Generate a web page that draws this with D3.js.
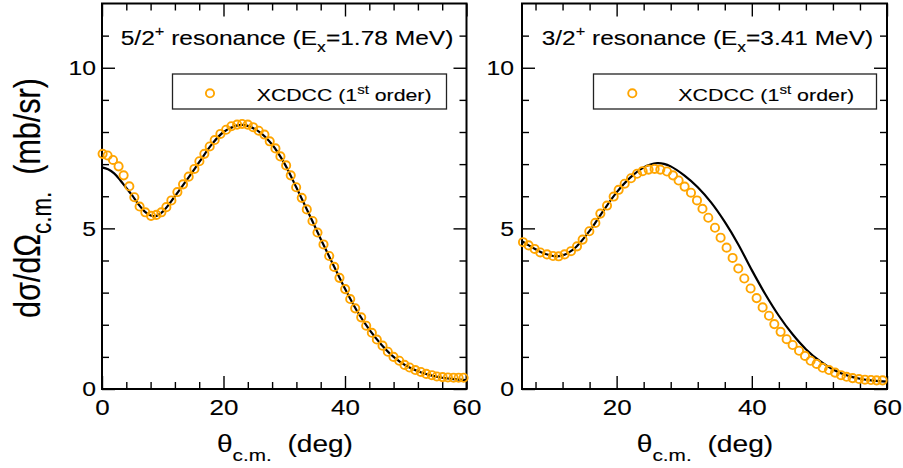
<!DOCTYPE html>
<html><head><meta charset="utf-8">
<script src="https://cdn.jsdelivr.net/npm/d3@7"></script>
<style>
body{margin:0;background:#fff}
svg{display:block}
text{font-family:"Liberation Sans",Arial,Helvetica,sans-serif;fill:#000;stroke:#000;stroke-width:0.12px}
</style>
</head><body>
<script>
// ---------- data ----------
const leftTheta = [0.1,0.92,1.81,2.73,3.56,4.50,5.32,6.19,7.13,8.07,8.95,9.77,10.59,11.42,12.41,13.34,14.27,15.21,16.03,16.85,17.73,18.55,19.49,20.43,21.30,22.24,23.06,23.99,24.88,25.80,26.74,27.61,28.55,29.37,30.31,31.07,31.96,32.88,33.71,34.65,35.47,36.46,37.40,38.22,39.09,40.03,40.86,41.68,42.67,43.49,44.42,45.24,46.18,47.05,47.99,48.93,49.80,50.63,51.57,52.49,53.38,54.30,55.12,56.06,56.94,57.87,58.70,59.52];
const leftXcdcc = [7.32,7.27,7.13,6.93,6.65,6.31,5.97,5.68,5.50,5.39,5.42,5.50,5.66,5.87,6.13,6.37,6.61,6.85,7.09,7.32,7.55,7.75,7.94,8.07,8.18,8.23,8.25,8.23,8.15,8.04,7.92,7.71,7.49,7.24,6.96,6.65,6.28,5.95,5.59,5.23,4.87,4.50,4.14,3.80,3.46,3.11,2.80,2.51,2.23,1.97,1.75,1.54,1.35,1.16,1.00,0.88,0.75,0.67,0.59,0.53,0.47,0.43,0.39,0.37,0.36,0.35,0.35,0.35];
const leftLineTheta = [0,1,2,3,4,5,6,7,8,9,10,12,14,16,18,20,22,23,24,26,28,30,32,34,36,38,40,42,44,46,48,50,52,54,56,58,60];
const leftLine = [6.90,6.84,6.71,6.50,6.26,6.02,5.75,5.53,5.40,5.39,5.52,6.00,6.52,7.06,7.60,8.00,8.19,8.22,8.19,7.99,7.61,7.03,6.27,5.48,4.67,3.89,3.12,2.42,1.85,1.38,1.00,0.73,0.55,0.43,0.35,0.31,0.28];

const rightTheta = [6.15,6.98,7.87,8.71,9.70,10.59,11.42,12.30,13.25,14.14,14.97,15.96,16.85,17.59,18.58,19.56,20.30,21.19,22.13,23.02,23.85,24.73,25.62,26.46,27.45,28.34,29.17,30.06,31.00,31.89,32.70,33.56,34.55,35.38,36.27,37.16,38.00,38.89,39.82,40.71,41.60,42.54,43.33,44.26,45.15,46.04,46.99,47.87,48.70,49.59,50.48,51.42,52.31,53.20,54.02,54.91,55.86,56.74,57.63,58.46,59.35];
const rightXcdcc = [4.57,4.47,4.36,4.25,4.19,4.14,4.13,4.19,4.29,4.44,4.65,4.91,5.17,5.46,5.71,5.99,6.20,6.39,6.56,6.70,6.78,6.83,6.85,6.83,6.77,6.65,6.49,6.30,6.11,5.87,5.61,5.33,5.02,4.71,4.40,4.08,3.75,3.44,3.13,2.83,2.54,2.28,2.02,1.78,1.55,1.37,1.19,1.03,0.88,0.78,0.66,0.59,0.51,0.43,0.38,0.34,0.31,0.29,0.28,0.27,0.27];
const rightLineTheta = [6,7,8,9,10,11,12,13,14,16,18,20,22,24,25,26,27,28,30,32,34,36,38,40,42,44,46,48,50,52,54,56,58,60];
const rightLine = [4.60,4.47,4.35,4.24,4.17,4.13,4.16,4.26,4.42,4.92,5.54,6.12,6.58,6.90,6.99,7.03,7.01,6.93,6.65,6.28,5.80,5.20,4.50,3.70,2.95,2.28,1.71,1.24,0.88,0.61,0.43,0.32,0.26,0.23];

const yMajorTicks = [0,5,10];
const yMinorTicks = [1,2,3,4,6,7,8,9,11];
const xMajorLeft = [0,20,40,60];
const xMinorLeft = [4,8,12,16,24,28,32,36,44,48,52,56];
const xMajorRight = [20,40,60];
const xMinorRight = [8,12,16,24,28,32,36,44,48,52,56];

const titles = [
  {jp:"5/2", sup:"+", a:" resonance (E", sub:"x", b:"=1.78 MeV)"},
  {jp:"3/2", sup:"+", a:" resonance (E", sub:"x", b:"=3.41 MeV)"}
];
const legendLabel = {a:"XCDCC (1", sup:"st", b:" order)"};
const xLabel = {main:"\u03b8", sub:"c.m.", rest:"\u00a0\u00a0(deg)"};
const yLabel = {main:"d\u03c3/d\u03a9", sub:"c.m.", rest:"\u00a0\u00a0(mb/sr)"};

// ---------- layout ----------
const W = 903, H = 468;
const yTop = 3.5, yBot = 389;
const TX = 1.18; // horizontal stretch of text in reference
const ORANGE = "#FFA500";

const panels = [
  {x0:102, x1:466.5, dom:[0,60], xMaj:xMajorLeft, xMin:xMinorLeft, th:leftTheta, v:leftXcdcc, lt:leftLineTheta, lv:leftLine,
   title:titles[0], tX:120.7, tW:333, lgX0:172.5, lgX1:446.5, lgCx:210, lgTx:256.7, lgTw:175, yPad:6, xlX:217, xlW:136},
  {x0:522, x1:887, dom:[6,60], xMaj:xMajorRight, xMin:xMinorRight, th:rightTheta, v:rightXcdcc, lt:rightLineTheta, lv:rightLine,
   title:titles[1], tX:541.7, tW:331.6, lgX0:593.5, lgX1:876.5, lgCx:632.3, lgTx:678.3, lgTw:176, yPad:8, xlX:636.7, xlW:136.6}
];

const svg = d3.select("body").append("svg").attr("width", W).attr("height", H);
const y = d3.scaleLinear().domain([0,12]).range([yBot, yTop]);

function fitText(parent, x, yb, width, fs, build){
  const g = parent.append("g");
  const t = g.append("text").attr("x",0).attr("y",0).style("font-size", fs+"px");
  build(t);
  const w = t.node().getBBox().width;
  g.attr("transform", `translate(${x},${yb}) scale(${width/w},1)`);
  return g;
}

function styleAxis(g){
  g.select(".domain").remove();
  g.attr("font-family",null);
  g.selectAll(".tick line").attr("stroke","#000").attr("stroke-width",1.4);
}

panels.forEach(p => {
  const x = d3.scaleLinear().domain(p.dom).range([p.x0, p.x1]);
  const P = svg.append("g");

  // minor ticks
  P.append("g").attr("transform",`translate(0,${yBot})`)
    .call(d3.axisBottom(x).tickValues(p.xMin).tickSize(-7).tickFormat("")).call(styleAxis);
  P.append("g").attr("transform",`translate(0,${yTop})`)
    .call(d3.axisTop(x).tickValues(p.xMin).tickSize(-7).tickFormat("")).call(styleAxis);
  P.append("g").attr("transform",`translate(${p.x0},0)`)
    .call(d3.axisLeft(y).tickValues(yMinorTicks).tickSize(-7).tickFormat("")).call(styleAxis);
  P.append("g").attr("transform",`translate(${p.x1},0)`)
    .call(d3.axisRight(y).tickValues(yMinorTicks).tickSize(-7).tickFormat("")).call(styleAxis);

  // major ticks
  const bx = P.append("g").attr("transform",`translate(0,${yBot})`)
    .call(d3.axisBottom(x).tickValues(p.xMaj).tickSizeInner(-13).tickSizeOuter(0).tickPadding(10).tickFormat(d3.format("d")))
    .call(styleAxis);
  bx.selectAll(".tick text").style("font-size","22px").attr("fill","#000")
    .attr("transform",`scale(${TX},1)`);
  P.append("g").attr("transform",`translate(0,${yTop})`)
    .call(d3.axisTop(x).tickValues(p.xMaj).tickSize(-13).tickFormat("")).call(styleAxis);
  const ly = P.append("g").attr("transform",`translate(${p.x0},0)`)
    .call(d3.axisLeft(y).tickValues(yMajorTicks).tickSizeInner(-13).tickSizeOuter(0).tickPadding(p.yPad).tickFormat(d3.format("d")))
    .call(styleAxis);
  ly.selectAll(".tick text").style("font-size","21px").attr("fill","#000")
    .attr("x", -p.yPad/TX).attr("transform",`scale(${TX},1)`);
  P.append("g").attr("transform",`translate(${p.x1},0)`)
    .call(d3.axisRight(y).tickValues(yMajorTicks).tickSize(-13).tickFormat("")).call(styleAxis);

  // frame
  P.append("rect").attr("x",p.x0).attr("y",yTop).attr("width",p.x1-p.x0).attr("height",yBot-yTop)
    .attr("fill","none").attr("stroke","#000").attr("stroke-width",2);

  // theory line
  const lineData = p.lt.map((t,i)=>[t,p.lv[i]]);
  P.append("path").datum(lineData)
    .attr("d", d3.line().x(d=>x(d[0])).y(d=>y(d[1])).curve(d3.curveCatmullRom.alpha(0.5)))
    .attr("fill","none").attr("stroke","#000").attr("stroke-width",2.2);

  // XCDCC circles
  const pts = p.th.map((t,i)=>[t,p.v[i]]);
  P.append("g").selectAll("circle").data(pts).join("circle")
    .attr("cx",d=>x(d[0])).attr("cy",d=>y(d[1])).attr("r",4.1)
    .attr("fill","none").attr("stroke",ORANGE).attr("stroke-width",1.9);

  // title
  fitText(P, p.tX, 45, p.tW, 21, t=>{
    t.append("tspan").text(p.title.jp);
    t.append("tspan").attr("dy",-9).style("font-size","14px").text(p.title.sup);
    t.append("tspan").attr("dy",9).text(p.title.a);
    t.append("tspan").attr("dy",7).style("font-size","15px").text(p.title.sub);
    t.append("tspan").attr("dy",-7).text(p.title.b);
  });

  // legend
  P.append("rect").attr("x",p.lgX0).attr("y",74).attr("width",p.lgX1-p.lgX0).attr("height",35)
    .attr("fill","none").attr("stroke","#222").attr("stroke-width",1.3);
  P.append("circle").attr("cx",p.lgCx).attr("cy",93.3).attr("r",4.1)
    .attr("fill","none").attr("stroke",ORANGE).attr("stroke-width",1.9);
  fitText(P, p.lgTx, 101, p.lgTw, 17, t=>{
    t.append("tspan").text(legendLabel.a);
    t.append("tspan").attr("dy",-7).style("font-size","12px").text(legendLabel.sup);
    t.append("tspan").attr("dy",7).text(legendLabel.b);
  });

  // x-axis label
  fitText(P, p.xlX, 451.7, p.xlW, 23, t=>{
    t.append("tspan").text(xLabel.main);
    t.append("tspan").attr("dy",9).style("font-size","17px").text(xLabel.sub);
    t.append("tspan").attr("dy",-9).text(xLabel.rest);
  });
});

// y-axis label (rotated)
(function(){
  const g = svg.append("g");
  const t = g.append("text").attr("x",0).attr("y",0).style("font-size","26px");
  t.append("tspan").text(yLabel.main);
  t.append("tspan").attr("dy",8).style("font-size","19px").text(yLabel.sub);
  t.append("tspan").attr("dy",-8).text(yLabel.rest);
  const w = t.node().getBBox().width;
  const target = 240;
  const s = target / w;
  g.attr("transform", `translate(40,318) scale(${1.2*s},${s}) rotate(-90)`);
})();
</script>
</body></html>
